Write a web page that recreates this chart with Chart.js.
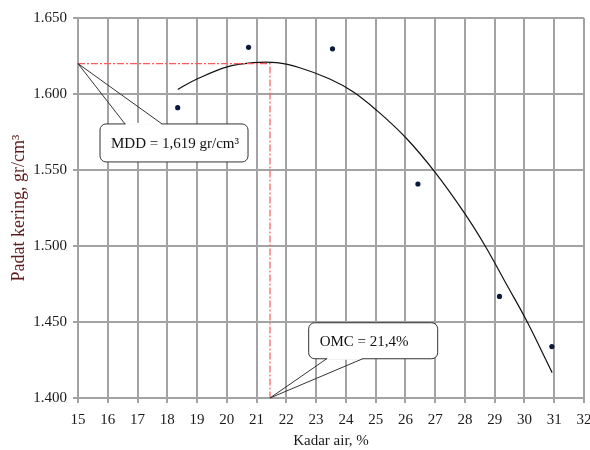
<!DOCTYPE html>
<html>
<head>
<meta charset="utf-8">
<script src="https://cdn.jsdelivr.net/npm/chart.js@4"></script>
<style>
  body { margin: 0; background: #fff; }
</style>
</head>
<body>
<canvas id="myChart" width="590" height="450"></canvas>
<script>
// Hasil uji pemadatan
const kadarAir = [18.35, 20.73, 23.55, 26.42, 29.16, 30.92];
const padatKering = [1.591, 1.6307, 1.6297, 1.5408, 1.4668, 1.4338];

// garis trend (polinomial) - titik dibaca sepanjang kurva
const trendX = [18.35, 18.98, 20.04, 20.88, 21.67, 22.45, 23.46, 24.24, 25.02, 26.03, 26.98, 27.99, 28.66, 29.39, 30.06, 30.93];
const trendY = [1.603, 1.6097, 1.618, 1.6206, 1.6206, 1.6173, 1.6099, 1.6015, 1.5895, 1.5709, 1.5489, 1.5215, 1.5007, 1.475, 1.4513, 1.4167];

const omc = 21.45;
const mdd = 1.620;
const xMin = 15, xMax = 32;
const yMin = 1.4, yMax = 1.65;

const serif = "'Liberation Serif', 'Times New Roman', serif";

// kotak keterangan MDD / OMC
const calloutPlugin = {
    id: "callouts",
    afterDatasetsDraw(chart, args, opts) {
        const ctx = chart.ctx;
        const sx = chart.scales.x, sy = chart.scales.y;
        opts.items.forEach((c) => {
            const tx = sx.getPixelForValue(c.tip[0]);
            const ty = sy.getPixelForValue(c.tip[1]);
            const bx = sx.getPixelForValue(c.box[0]);
            const by = sy.getPixelForValue(c.box[1]);
            const baseY = c.side === "top" ? by : by + c.h;
            ctx.save();
            // kotak
            ctx.beginPath();
            ctx.roundRect(bx, by, c.w, c.h, 6);
            ctx.fillStyle = "#fff";
            ctx.fill();
            ctx.strokeStyle = "#333";
            ctx.lineWidth = 1;
            ctx.stroke();
            // penunjuk
            ctx.fillStyle = "#fff";
            ctx.fillRect(bx + c.b1 + 0.5, baseY - 1, c.b2 - c.b1 - 1, 2);
            ctx.beginPath();
            ctx.moveTo(bx + c.b1, baseY);
            ctx.lineTo(tx, ty);
            ctx.lineTo(bx + c.b2, baseY);
            ctx.stroke();
            // teks
            ctx.fillStyle = "#111";
            ctx.font = "15px " + serif;
            ctx.textBaseline = "middle";
            ctx.fillText(c.text, bx + 11, by + c.h / 2 + 1);
            ctx.restore();
        });
    },
};

const ctx = document.getElementById("myChart");

new Chart(ctx, {
    type: "scatter",
    data: {
        datasets: [
            {
                label: "MDD/OMC",
                data: [
                    { x: xMin, y: mdd },
                    { x: omc, y: mdd },
                    { x: omc, y: yMin },
                ],
                showLine: true,
                borderColor: "#ff5a5a",
                borderWidth: 1.2,
                borderDash: [7, 2, 2, 2],
                pointRadius: 0,
                fill: false,
            },
            {
                label: "Trend",
                data: trendX.map((x, i) => ({ x: x, y: trendY[i] })),
                showLine: true,
                borderColor: "#111",
                borderWidth: 1.2,
                tension: 0.4,
                pointRadius: 0,
                fill: false,
            },
            {
                label: "Padat kering",
                data: kadarAir.map((x, i) => ({ x: x, y: padatKering[i] })),
                pointRadius: 2.6,
                pointBackgroundColor: "#0b1a3a",
                pointBorderColor: "#0b1a3a",
                pointBorderWidth: 0,
            },
        ],
    },
    options: {
        responsive: false,
        animation: false,
        layout: { padding: { top: 18, right: 6, left: 0, bottom: 0 } },
        plugins: {
            legend: { display: false },
            tooltip: { enabled: false },
            callouts: {
                items: [
                    { text: "MDD = 1,619 gr/cm³", tip: [xMin, mdd], box: [15.74, 1.5803], w: 148, h: 38, side: "top", b1: 25, b2: 62 },
                    { text: "OMC = 21,4%", tip: [omc, yMin], box: [22.75, 1.4495], w: 129, h: 36, side: "bottom", b1: 18, b2: 54 },
                ],
            },
        },
        scales: {
            x: {
                type: "linear",
                min: xMin,
                max: xMax,
                ticks: {
                    stepSize: 1,
                    padding: 8,
                    color: "#1a1a1a",
                    font: { family: serif, size: 15 },
                },
                grid: { color: "#a3a3a3", lineWidth: 2, tickLength: 5 },
                border: { color: "#a3a3a3", width: 2 },
                title: {
                    display: true,
                    text: "Kadar air, %",
                    color: "#1a1a1a",
                    font: { family: serif, size: 15 },
                    padding: { top: 8, bottom: 0 },
                },
                afterFit(scale) {
                    scale.height = 52;
                    scale.paddingRight = 6;
                    scale.paddingLeft = 0;
                },
            },
            y: {
                min: yMin,
                max: yMax,
                ticks: {
                    stepSize: 0.05,
                    padding: 6,
                    color: "#1a1a1a",
                    font: { family: serif, size: 15 },
                    callback: (v) => v.toFixed(3),
                },
                grid: { color: "#a3a3a3", lineWidth: 2, tickLength: 5 },
                border: { color: "#a3a3a3", width: 2 },
                title: {
                    display: true,
                    text: "Padat kering, gr/cm³",
                    color: "#5c1a1a",
                    font: { family: serif, size: 18 },
                    padding: { top: 8, bottom: 2 },
                },
                afterFit(scale) {
                    scale.width = 78;
                },
            },
        },
    },
    plugins: [calloutPlugin],
});
</script>
</body>
</html>
